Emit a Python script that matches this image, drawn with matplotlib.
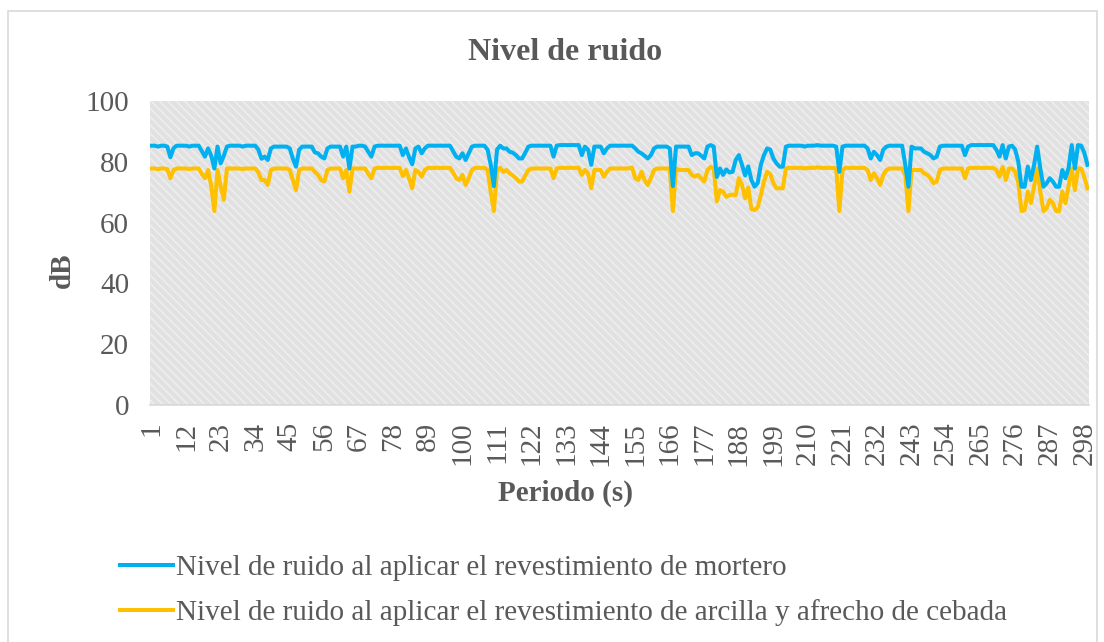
import numpy as np
import matplotlib
matplotlib.use('Agg')
import matplotlib.pyplot as plt
from matplotlib.patches import Rectangle

# data (periods 1..299)
periods = list(range(1, 300))

mortero = [
    85.3, 85.3, 85.0, 85.3, 85.3, 85.0, 81.5, 84.5, 85.3, 85.3,
    85.3, 85.3, 85.0, 85.3, 85.3, 85.3, 83.5, 81.7, 84.4, 82.0,
    77.8, 85.0, 79.5, 82.0, 85.0, 85.3, 85.3, 85.3, 85.3, 85.0,
    85.3, 85.3, 85.3, 85.3, 84.0, 81.0, 81.7, 80.6, 84.4, 85.0,
    85.0, 85.0, 85.0, 85.0, 84.4, 81.0, 78.4, 84.0, 85.0, 85.0,
    85.0, 85.0, 83.1, 82.8, 81.7, 81.1, 84.4, 85.0, 85.0, 85.0,
    85.0, 81.7, 85.0, 77.8, 85.0, 85.0, 85.3, 85.3, 85.0, 83.3,
    81.7, 85.0, 85.3, 85.3, 85.3, 85.3, 85.3, 85.3, 85.3, 85.3,
    82.2, 84.4, 81.5, 79.2, 84.4, 85.0, 82.8, 84.4, 85.3, 85.3,
    85.3, 85.3, 85.3, 85.3, 85.3, 85.3, 83.5, 81.7, 81.1, 82.8,
    80.6, 82.8, 85.0, 85.3, 85.3, 85.3, 85.3, 84.0, 79.0, 72.0,
    84.0, 85.3, 84.4, 84.4, 83.3, 83.0, 82.2, 81.1, 81.1, 83.0,
    85.0, 85.3, 85.3, 85.3, 85.3, 85.3, 85.3, 85.3, 81.7, 85.3,
    85.5, 85.5, 85.5, 85.5, 85.5, 85.5, 85.5, 82.2, 85.0, 84.0,
    79.0, 85.0, 85.0, 85.0, 82.8, 84.4, 85.3, 85.3, 85.3, 85.3,
    85.3, 85.3, 85.3, 85.3, 84.4, 83.3, 82.8, 82.0, 81.1, 82.2,
    84.4, 85.0, 85.0, 85.0, 85.0, 84.4, 72.0, 85.0, 85.0, 85.0,
    85.0, 85.0, 82.2, 82.8, 82.8, 82.0, 81.1, 85.0, 85.5, 85.0,
    75.0, 77.8, 75.7, 77.5, 76.5, 76.7, 80.6, 82.2, 79.0, 75.5,
    78.5, 74.0, 71.8, 73.0, 79.0, 82.2, 84.4, 84.0, 81.1, 79.5,
    78.4, 78.4, 85.0, 85.3, 85.3, 85.3, 85.3, 85.3, 85.0, 85.3,
    85.3, 85.3, 85.5, 85.3, 85.3, 85.3, 85.3, 85.3, 85.0, 76.7,
    85.0, 85.3, 85.3, 85.3, 85.3, 85.3, 85.3, 85.3, 84.4, 81.1,
    83.3, 82.2, 80.6, 84.0, 85.0, 85.3, 85.3, 85.3, 85.3, 85.3,
    79.0, 71.8, 85.0, 84.4, 84.4, 84.4, 83.3, 82.8, 82.2, 81.1,
    81.7, 85.0, 85.3, 85.3, 85.3, 85.3, 85.3, 85.3, 85.3, 82.2,
    85.0, 85.5, 85.5, 85.5, 85.5, 85.5, 85.5, 85.5, 85.5, 84.0,
    81.7, 85.5, 81.1, 85.0, 85.3, 84.0, 80.0, 71.8, 71.8, 78.4,
    74.0, 78.9, 85.0, 77.8, 71.8, 72.9, 74.6, 73.5, 71.8, 71.8,
    77.3, 74.6, 78.0, 85.5, 77.8, 85.5, 85.3, 83.0, 79.0,
]

arcilla = [
    77.8, 77.8, 77.6, 77.8, 77.8, 77.6, 74.6, 77.3, 77.8, 77.8,
    77.8, 77.8, 77.6, 77.8, 77.8, 77.8, 76.0, 74.6, 77.3, 72.0,
    63.8, 77.3, 72.0, 67.5, 77.8, 77.8, 77.8, 77.8, 77.8, 77.6,
    77.8, 77.8, 77.8, 77.8, 76.5, 74.0, 74.0, 72.4, 77.3, 77.8,
    77.8, 77.8, 77.8, 77.8, 77.3, 74.0, 70.7, 77.3, 77.8, 77.8,
    77.8, 77.8, 76.7, 75.7, 74.0, 73.5, 77.3, 77.8, 77.8, 77.8,
    77.8, 74.6, 77.3, 70.2, 77.8, 77.8, 77.8, 77.8, 77.8, 76.0,
    74.6, 77.8, 78.0, 78.0, 78.0, 78.0, 78.0, 78.0, 78.0, 78.0,
    75.3, 77.3, 74.5, 71.3, 77.3, 76.7, 75.1, 77.3, 78.0, 78.0,
    78.0, 78.0, 78.0, 78.0, 78.0, 78.0, 76.5, 74.6, 74.0, 75.7,
    72.4, 74.6, 77.3, 78.0, 78.0, 78.0, 78.0, 77.3, 70.0, 63.8,
    77.3, 78.0, 76.7, 77.3, 76.2, 75.5, 74.6, 73.5, 73.5, 75.5,
    77.3, 77.8, 77.8, 77.8, 77.8, 77.8, 77.8, 77.8, 74.6, 77.8,
    78.0, 78.0, 78.0, 78.0, 78.0, 78.0, 78.0, 75.7, 77.3, 76.2,
    71.3, 77.3, 77.3, 77.3, 75.1, 76.7, 77.8, 77.8, 77.8, 77.8,
    77.8, 77.8, 77.8, 78.1, 74.6, 74.0, 76.7, 74.0, 72.4, 74.6,
    77.3, 77.8, 77.8, 77.8, 77.8, 77.8, 63.8, 77.8, 77.3, 77.3,
    77.3, 77.3, 75.7, 75.1, 75.7, 74.6, 73.5, 77.3, 78.3, 77.8,
    67.0, 70.7, 70.2, 68.5, 69.0, 69.2, 69.0, 74.6, 72.4, 68.0,
    71.5, 64.5, 64.1, 65.0, 69.0, 73.5, 76.7, 76.0, 73.0, 71.3,
    71.3, 71.3, 77.8, 78.0, 78.0, 78.0, 78.0, 78.0, 77.8, 78.0,
    78.0, 78.0, 78.2, 78.0, 78.0, 78.0, 78.0, 78.0, 77.8, 63.8,
    77.3, 78.0, 78.0, 78.0, 78.0, 78.0, 78.0, 78.0, 77.3, 74.0,
    76.2, 74.6, 72.4, 75.7, 77.3, 77.8, 77.8, 77.8, 77.8, 77.8,
    75.7, 63.8, 77.3, 77.3, 77.3, 77.3, 76.2, 75.7, 74.6, 73.0,
    73.5, 77.3, 77.8, 77.8, 77.8, 77.8, 77.8, 77.8, 77.8, 74.6,
    77.8, 78.0, 78.0, 78.0, 78.0, 78.0, 78.0, 78.0, 78.0, 77.3,
    75.1, 78.3, 74.0, 77.8, 77.8, 76.7, 73.0, 63.8, 64.1, 70.2,
    66.4, 71.8, 77.8, 70.2, 63.8, 64.7, 67.5, 66.4, 63.8, 63.8,
    70.2, 66.4, 72.0, 77.8, 70.7, 77.8, 77.8, 75.0, 71.3,
]

y_ticks = [0, 20, 40, 60, 80, 100]
x_ticks = list(range(1, 300, 11))

label_mortero = 'Nivel de ruido al aplicar el revestimiento de mortero'
label_arcilla = 'Nivel de ruido al aplicar el revestimiento de arcilla y afrecho de cebada'

W, H = 1104, 642
txt = '#595959'
fs = 21
plt.rcParams['font.family'] = ['Liberation Serif', 'DejaVu Serif']
plt.rcParams['hatch.linewidth'] = 1.2

fig = plt.figure(figsize=(W / 100, H / 100), dpi=100)
fig.patch.set_facecolor('white')

# chart border
fig.patches.append(Rectangle((8 / W, -0.01), (1097 - 8) / W, 1 - 11 / H + 0.01,
                             transform=fig.transFigure, facecolor='none',
                             edgecolor='#d9d9d9', lw=1.2))

ax = fig.add_axes([150 / W, 1 - 405 / H, 939 / W, 304 / H])
ax.set_facecolor('#e1e1e1')
# patterned plot area
ax.add_patch(Rectangle((0, 0), 1, 1, transform=ax.transAxes, facecolor='none',
                       edgecolor='#eeeeee', hatch='\\\\\\\\', lw=0, zorder=0))

ax.plot(periods, mortero, color='#00B0F0', lw=2.9, label=label_mortero,
        solid_joinstyle='round', zorder=3)
ax.plot(periods, arcilla, color='#FFC000', lw=2.9, label=label_arcilla,
        solid_joinstyle='round', zorder=2)

ax.set_xlim(0.5, 299.5)
ax.set_ylim(0, 100)
ax.set_yticks(y_ticks)
ax.set_xticks(x_ticks)
ax.set_xticklabels([str(v) for v in x_ticks], rotation=90)
ax.tick_params(axis='both', length=0, labelsize=fs, labelcolor=txt)
ax.tick_params(axis='y', pad=15)
ax.tick_params(axis='x', pad=12)

for s in ['top', 'right', 'left']:
    ax.spines[s].set_visible(False)
ax.spines['bottom'].set_color('#d9d9d9')
ax.spines['bottom'].set_linewidth(1.2)

fig.text(565 / W, 1 - 52 / H, 'Nivel de ruido', ha='center', va='center',
         fontsize=23, fontweight='bold', color=txt)
fig.text(62 / W, 1 - 270 / H, 'dB', ha='center', va='center', rotation=90,
         fontsize=fs, fontweight='bold', color=txt)
fig.text(565 / W, 1 - 493 / H, 'Periodo (s)', ha='center', va='center',
         fontsize=fs, fontweight='bold', color=txt)

handles, labels = ax.get_legend_handles_labels()
fig.legend(handles, labels, loc='upper left', bbox_to_anchor=(120 / W, 1 - 555 / H),
           frameon=False, fontsize=fs, labelcolor=txt, handlelength=1.8,
           handletextpad=0.12, labelspacing=0.62, borderpad=0, borderaxespad=0)

fig.savefig('out.png', dpi=100)
